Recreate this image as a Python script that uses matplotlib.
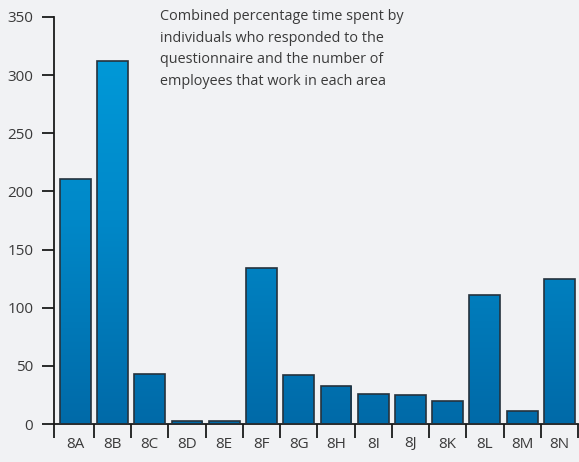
import numpy as np
import matplotlib.pyplot as plt
from matplotlib.colors import LinearSegmentedColormap

categories = ["8A", "8B", "8C", "8D", "8E", "8F", "8G", "8H", "8I", "8J", "8K", "8L", "8M", "8N"]
values = [211, 312, 43, 2.5, 2.5, 134, 42, 33, 26, 25, 20, 111, 11, 125]
y_ticks = [0, 50, 100, 150, 200, 250, 300, 350]
note = ("Combined percentage time spent by\n"
        "individuals who responded to the\n"
        "questionnaire and the number of\n"
        "employees that work in each area")

plt.rcParams['font.family'] = ['Open Sans', 'DejaVu Sans']
bg = "#f1f2f4"
W, H = 579, 462
fig = plt.figure(figsize=(W / 100, H / 100), dpi=100, facecolor=bg)
ax = fig.add_axes([54 / W, 38 / H, (578 - 54) / W, (424 - 17) / H], facecolor=bg)

n = len(categories)
x = np.arange(n)
x_left = -0.5 - 2.7 / 37.25
ax.set_xlim(x_left, n - 0.5)
ax.set_ylim(0, 350)

# vertical blue gradient shared by all bars
cmap = LinearSegmentedColormap.from_list("blues", ["#006aa8", "#0088c8", "#009ddc"])
grad = np.linspace(0, 1, 256).reshape(-1, 1)
bars = ax.bar(x, values, width=0.83, color="none", edgecolor="#25323d", linewidth=1.2, zorder=3)
for b in bars:
    im = ax.imshow(grad, cmap=cmap, origin="lower", aspect="auto",
                   extent=(x_left, n - 0.5, 0, 350), zorder=2, interpolation="bicubic")
    im.set_clip_path(b)

ax.set_xlim(x_left, n - 0.5)
ax.set_ylim(0, 350)

for s in ["top", "right"]:
    ax.spines[s].set_visible(False)
for s in ["left", "bottom"]:
    ax.spines[s].set_color("#1a1a1a")
    ax.spines[s].set_linewidth(1.3)

ax.set_yticks(y_ticks)
ax.set_yticklabels([str(v) for v in y_ticks])
ax.tick_params(axis="y", direction="out", length=9, width=1.3, color="#1a1a1a",
               labelsize=11, labelcolor="#3a3a3a", pad=6)

# category boundaries carry the ticks, labels sit centred in each slot
ax.set_xticks([x_left] + list(np.arange(1, n + 1) - 0.5))
ax.set_xticklabels([])
ax.tick_params(axis="x", direction="out", length=10, width=1.3, color="#1a1a1a")
ax.set_xticks(x, minor=True)
ax.set_xticklabels(categories, minor=True)
ax.tick_params(axis="x", which="minor", length=0, labelsize=11, labelcolor="#3a3a3a", pad=9)

fig.text(160 / W, 1 - 9 / H, note, ha="left", va="top", fontsize=10.4, color="#3a3a3a",
         linespacing=1.6)

fig.savefig("out.png", dpi=100, facecolor=bg)
